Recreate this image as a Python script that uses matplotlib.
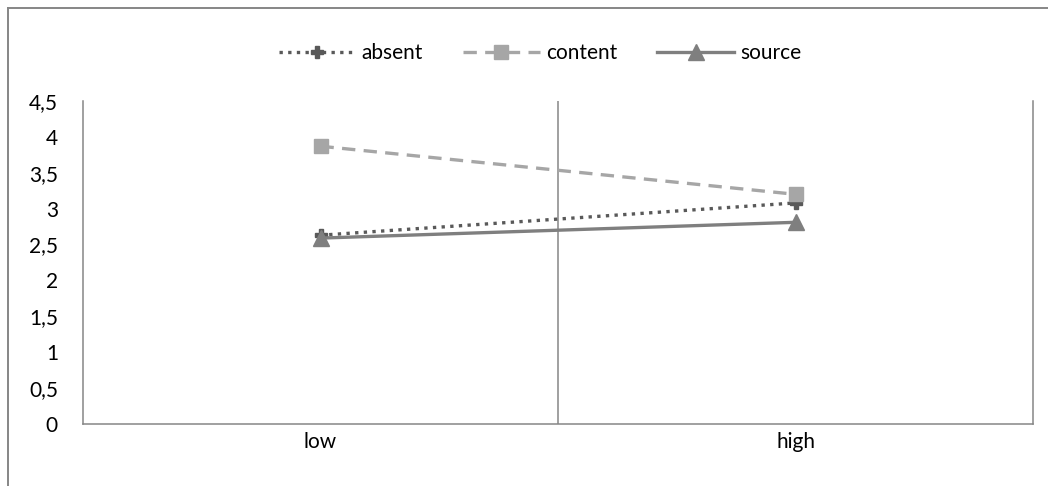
import matplotlib.pyplot as plt
from matplotlib.lines import Line2D

categories = ['low', 'high']
absent = [2.63, 3.08]
content = [3.87, 3.20]
source = [2.59, 2.81]
yticks = [0, 0.5, 1, 1.5, 2, 2.5, 3, 3.5, 4, 4.5]
ytick_labels = ['0', '0,5', '1', '1,5', '2', '2,5', '3', '3,5', '4', '4,5']

plt.rcParams['font.family'] = ['Lato', 'DejaVu Sans']
axis_col = '#868686'
fs = 15

fig = plt.figure(figsize=(10.48, 4.86), dpi=100)
ax = fig.add_axes([83 / 1048, 1 - 424 / 486, 950 / 1048, 323 / 486])

x = range(len(categories))
ax.plot(x, absent, color='#595959', ls=(0, (1, 1.6)), lw=2.4,
        marker='P', ms=8, label='absent')
ax.plot(x, content, color='#a6a6a6', ls=(0, (4, 2.5)), lw=2.4,
        marker='s', ms=10, label='content')
ax.plot(x, source, color='#7f7f7f', ls='-', lw=2.4,
        marker='^', ms=11, label='source')

ax.set_xlim(-0.5, 1.5)
ax.set_ylim(0, 4.5)
ax.axvline(0.5, color=axis_col, lw=1.1, zorder=0)

for side in ['left', 'bottom', 'right']:
    ax.spines[side].set_color(axis_col)
    ax.spines[side].set_linewidth(1.1)
ax.spines['top'].set_visible(False)

ax.set_xticks(list(x))
ax.set_xticklabels(categories)
ax.set_yticks(yticks)
ax.set_yticklabels(ytick_labels)
ax.tick_params(axis='both', length=0, labelsize=fs, colors='black')
ax.tick_params(axis='y', pad=18)
ax.tick_params(axis='x', pad=6)

# chart area border (left and top edges)
fig.add_artist(Line2D([8 / 1048, 8 / 1048], [0, 1 - 8 / 486],
                      transform=fig.transFigure, color=axis_col, lw=1.4))
fig.add_artist(Line2D([8 / 1048, 1], [1 - 8 / 486, 1 - 8 / 486],
                      transform=fig.transFigure, color=axis_col, lw=1.4))

fig.legend(loc='center', bbox_to_anchor=(540 / 1048, 1 - 53 / 486), ncol=3,
           frameon=False, fontsize=fs, handlelength=3.7, columnspacing=1.9,
           handletextpad=0.3)

fig.savefig('out.png', dpi=100)
